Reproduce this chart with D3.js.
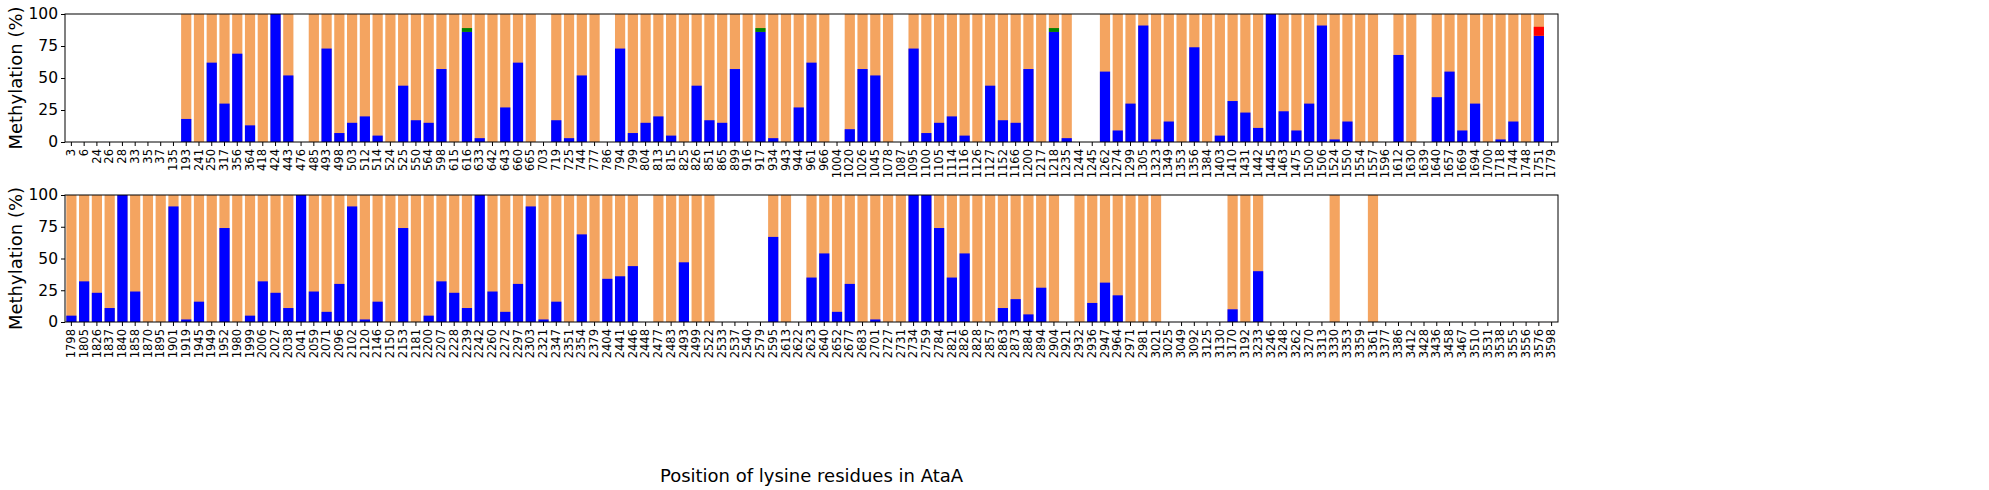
<!DOCTYPE html>
<html>
<head>
<meta charset="utf-8">
<script src="https://cdn.jsdelivr.net/npm/d3@7"></script>
<style>
  body { margin: 0; background: #fff; }
  text { font-family: "DejaVu Sans", sans-serif; }
</style>
</head>
<body>
<script>
// lysine positions and methylation (%) per panel; null = not detected (no bar)
const topPos = [3,6,24,26,28,33,35,37,135,193,241,250,317,356,364,418,424,443,476,485,493,498,503,512,514,524,525,550,564,598,615,616,633,642,643,660,665,703,719,725,744,777,786,794,799,804,813,815,825,826,851,865,899,916,917,934,943,944,961,966,1004,1020,1026,1045,1078,1087,1095,1100,1105,1114,1116,1126,1127,1152,1166,1200,1217,1218,1235,1244,1245,1262,1274,1299,1305,1323,1349,1353,1356,1384,1403,1410,1431,1442,1445,1463,1475,1500,1506,1524,1550,1554,1557,1596,1612,1630,1639,1640,1657,1669,1694,1700,1718,1744,1748,1751,1779]
const topBlue = [null,null,null,null,null,null,null,null,null,18,0,62,30,69,13,0,100,52,null,0,73,7,15,20,5,0,44,17,15,57,0,86,3,0,27,62,0,null,17,3,52,0,null,73,7,15,20,5,0,44,17,15,57,0,86,3,0,27,62,0,null,10,57,52,0,null,73,7,15,20,5,0,44,17,15,57,0,86,3,null,null,55,9,30,91,2,16,0,74,0,5,32,23,11,100,24,9,30,91,2,16,0,0,null,68,0,null,35,55,9,30,0,2,16,0,83,null]

const bottomPos = [1798,1805,1826,1837,1840,1858,1870,1895,1901,1919,1945,1949,1952,1980,1999,2006,2027,2038,2041,2059,2071,2096,2102,2120,2146,2150,2153,2181,2200,2207,2228,2239,2242,2260,2272,2297,2303,2321,2347,2351,2354,2379,2404,2441,2446,2448,2477,2483,2493,2499,2522,2533,2537,2540,2579,2595,2613,2622,2623,2640,2652,2677,2683,2701,2727,2731,2734,2759,2784,2821,2826,2828,2857,2863,2873,2884,2894,2904,2921,2932,2936,2947,2964,2971,2981,3021,3025,3049,3092,3125,3130,3170,3192,3233,3246,3248,3262,3270,3313,3330,3353,3359,3361,3377,3386,3412,3428,3436,3458,3467,3510,3531,3538,3555,3556,3576,3598]
const bottomBlue = [5,32,23,11,100,24,0,0,91,2,16,0,74,0,5,32,23,11,100,24,8,30,91,2,16,0,74,0,5,32,23,11,100,24,8,30,91,2,16,
  0,69,0,34,36,44,null,0,0,47,0,0,null,null,null,null,67,0,null,35,54,8,30,0,2,0,0,100,100,74,35,54,0,0,11,18,6,27,
  0,null,0,15,31,21,0,0,0,null,null,null,null,null,10,0,40,null,null,null,null,null,0,null,null,0,null,null,null,null,null,null,null,null,null,null,null,null,null,null]

// small extra segments stacked on top of blue
const greenPos = [616,917,1218]
const greenVal = [3,3,3]
const redPos = [1751]
const redVal = [7]

const W = 1989, H = 490
const left = 65, right = 1558
const panels = [
  {pos: topPos, blue: topBlue, top: 14, bottom: 142},
  {pos: bottomPos, blue: bottomBlue, top: 195, bottom: 322}
]

const svg = d3.select('body').append('svg')
    .attr('width', W).attr('height', H)

panels.forEach(p => {
    const x = d3.scaleBand()
        .domain(p.pos.map(String))
        .range([left, right])
        .paddingInner(0.2)
        .paddingOuter(0.1)
    const y = d3.scaleLinear().domain([0, 100]).range([p.bottom, p.top])

    const rows = p.pos.map((d, i) => ({pos: d, blue: p.blue[i]})).filter(d => d.blue !== null)
    const g = svg.append('g')

    g.selectAll('rect.det').data(rows).enter().append('rect')
        .attr('x', d => x(String(d.pos))).attr('width', x.bandwidth())
        .attr('y', y(100)).attr('height', y(0) - y(100))
        .attr('fill', '#f4a460')

    g.selectAll('rect.me').data(rows).enter().append('rect')
        .attr('x', d => x(String(d.pos))).attr('width', x.bandwidth())
        .attr('y', d => y(d.blue)).attr('height', d => y(0) - y(d.blue))
        .attr('fill', '#0000ff')

    const extra = [
        ...greenPos.map((d, i) => ({pos: d, v: greenVal[i], c: '#008000'})),
        ...redPos.map((d, i) => ({pos: d, v: redVal[i], c: '#ff0000'}))
    ].filter(e => p.pos.includes(e.pos))
    extra.forEach(e => {
        const b = rows.find(r => r.pos === e.pos).blue
        g.append('rect')
            .attr('x', x(String(e.pos))).attr('width', x.bandwidth())
            .attr('y', y(b + e.v)).attr('height', y(b) - y(b + e.v))
            .attr('fill', e.c)
    })

    const xa = svg.append('g')
        .attr('transform', `translate(0, ${p.bottom})`)
        .call(d3.axisBottom(x).tickSizeOuter(0).tickSize(4))
    xa.select('.domain').remove()
    xa.selectAll('text')
        .attr('transform', 'rotate(-90)')
        .attr('x', -7).attr('y', 0).attr('dy', '0.32em')
        .style('text-anchor', 'end')
        .style('font-size', '11.5px')

    const ya = svg.append('g')
        .attr('transform', `translate(${left}, 0)`)
        .call(d3.axisLeft(y).tickValues([0, 25, 50, 75, 100]).tickSize(4).tickSizeOuter(0))
    ya.select('.domain').remove()
    ya.selectAll('text').style('font-size', '15.5px')

    svg.append('rect')
        .attr('x', left).attr('y', p.top)
        .attr('width', right - left).attr('height', p.bottom - p.top)
        .attr('fill', 'none').attr('stroke', '#000').attr('stroke-width', 1)

    svg.append('text')
        .attr('transform', `translate(22, ${(p.top + p.bottom) / 2}) rotate(-90)`)
        .attr('text-anchor', 'middle')
        .style('font-size', '18px')
        .text('Methylation (%)')
})

svg.append('text')
    .attr('x', (left + right) / 2).attr('y', 482)
    .attr('text-anchor', 'middle')
    .style('font-size', '18px')
    .text('Position of lysine residues in AtaA')
</script>
</body>
</html>
